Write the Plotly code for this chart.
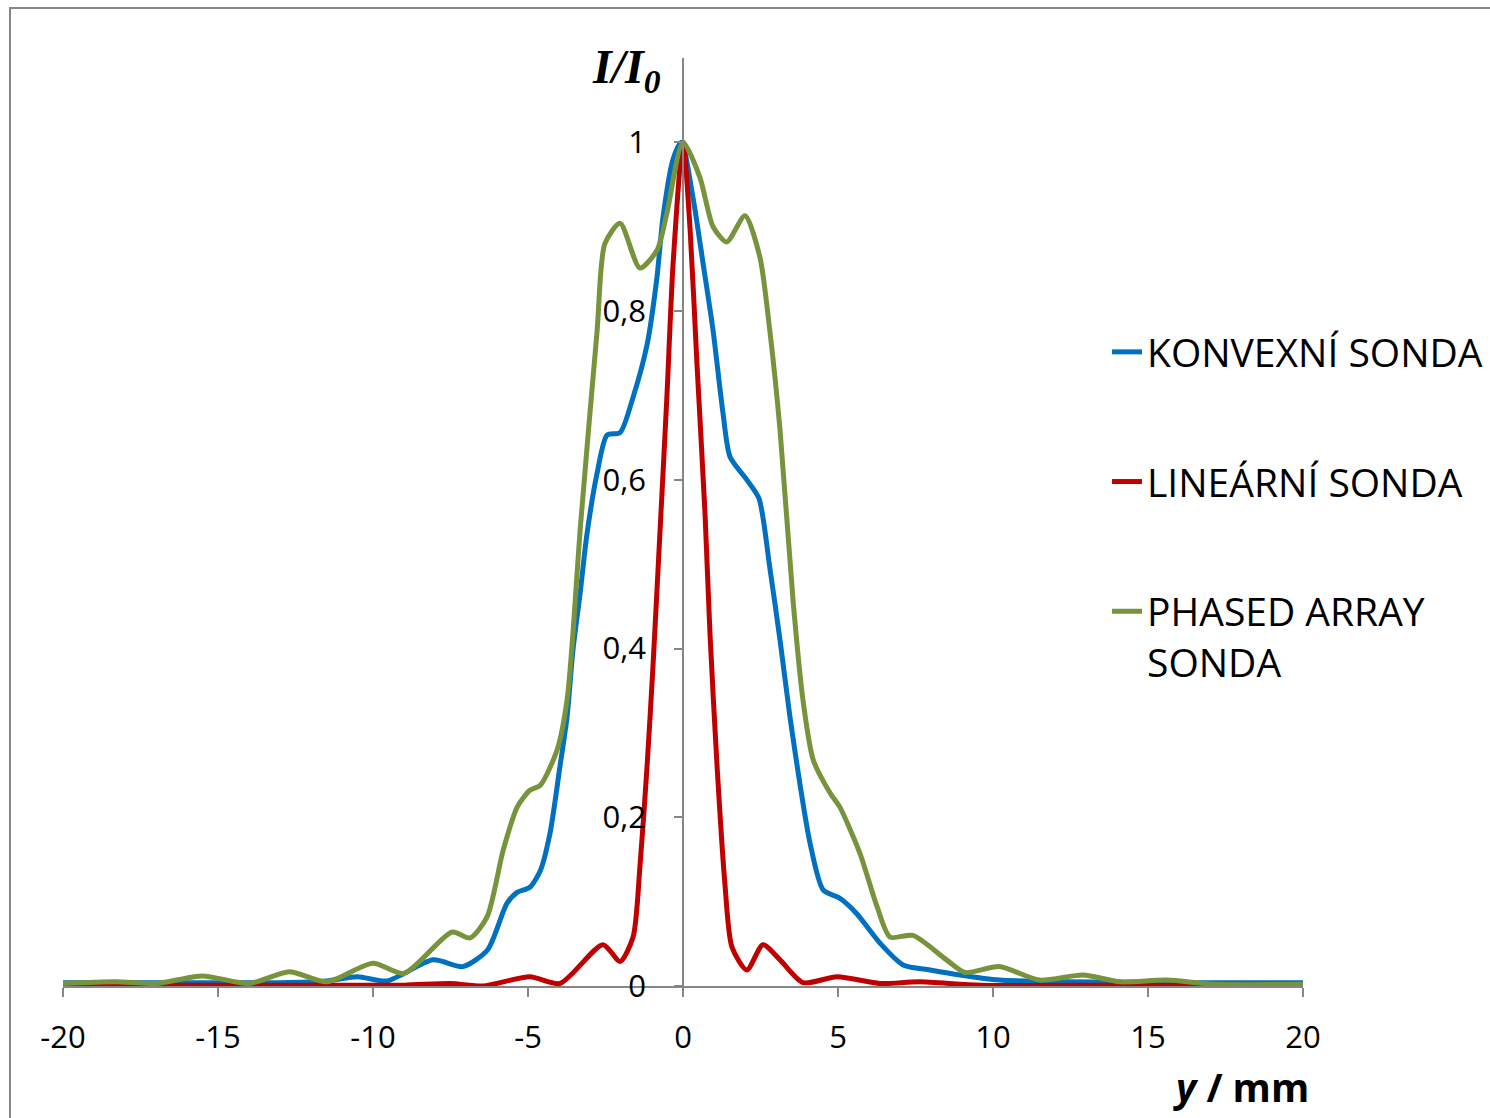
import plotly.graph_objects as go

# ---- data ----
x_konvex = [-20, -16, -13, -11.5, -10.5, -9.55, -8.06, -7.1, -6.3, -5.68, -5.35, -4.94, -4.6, -4.29,
            -3.97, -3.74, -3.55, -3.32, -3.1, -2.77, -2.45, -2.03, -1.61, -1.16, -0.84, -0.65, -0.32,
            -0.05, 0.32, 0.65, 0.97, 1.29, 1.52, 2.06, 2.45, 2.8, 3.13, 3.45, 3.77, 4.1, 4.52, 5.06,
            5.6, 6.35, 7.1, 7.97, 8.94, 10.2, 12.4, 16, 20]
y_konvex = [0.004, 0.004, 0.004, 0.006, 0.011, 0.006, 0.031, 0.023, 0.043, 0.098, 0.111, 0.117, 0.137,
            0.181, 0.26, 0.319, 0.398, 0.465, 0.535, 0.608, 0.653, 0.656, 0.698, 0.76, 0.84, 0.91,
            0.98, 1.0, 0.935, 0.856, 0.777, 0.679, 0.627, 0.6, 0.578, 0.496, 0.41, 0.319, 0.24, 0.169,
            0.114, 0.104, 0.086, 0.051, 0.025, 0.019, 0.013, 0.007, 0.005, 0.004, 0.004]

x_linear = [-20, -12, -9, -7.5, -6.45, -4.94, -3.97, -2.58, -2.03, -1.61, -1.39, -1.16, -0.97, -0.74,
            -0.52, -0.32, 0, 0.23, 0.45, 0.71, 0.87, 1.1, 1.35, 1.58, 2.06, 2.58, 3.13, 3.87, 4.97,
            6.35, 7.6, 9.6, 14, 20]
y_linear = [0.001, 0.001, 0.001, 0.003, 0.0, 0.011, 0.003, 0.049, 0.029, 0.058, 0.141, 0.26, 0.378,
            0.54, 0.698, 0.856, 1.0, 0.896, 0.738, 0.56, 0.418, 0.26, 0.122, 0.046, 0.019, 0.049,
            0.031, 0.004, 0.011, 0.003, 0.005, 0.001, 0.001, 0.001]

x_phased = [-20, -18.3, -17, -15.5, -14, -12.7, -11.5, -10, -9, -7.45, -6.87, -6.32, -5.8, -5.35,
            -4.94, -4.6, -4.06, -3.74, -3.55, -3.32, -2.77, -2.52, -2.03, -1.39, -0.84, -0.52, 0,
            0.55, 0.97, 1.41, 2.0, 2.48, 2.8, 3.13, 3.55, 3.87, 4.2, 4.74, 5.06, 5.71, 6.26, 6.68,
            7.42, 8.5, 9.1, 10.2, 11.5, 12.9, 14.1, 15.6, 17.2, 20]
y_phased = [0.003, 0.005, 0.003, 0.012, 0.003, 0.017, 0.005, 0.027, 0.015, 0.064, 0.057, 0.082,
            0.161, 0.212, 0.232, 0.238, 0.28, 0.339, 0.418, 0.54, 0.777, 0.88, 0.904, 0.851, 0.872,
            0.916, 1.0, 0.958, 0.9, 0.882, 0.913, 0.864, 0.777, 0.659, 0.457, 0.339, 0.268, 0.229,
            0.212, 0.157, 0.094, 0.058, 0.06, 0.031, 0.016, 0.023, 0.007, 0.013, 0.005, 0.007,
            0.002, 0.002]

series_names = ["KONVEXNÍ SONDA", "LINEÁRNÍ SONDA", "PHASED ARRAY<br>SONDA"]
series_colors = ["#0070C0", "#C00000", "#77933C"]

x_tickvals = [-20, -15, -10, -5, 0, 5, 10, 15, 20]
x_ticktext = ["-20", "-15", "-10", "-5", "0", "5", "10", "15", "20"]
y_tickvals = [0, 0.2, 0.4, 0.6, 0.8, 1.0]
y_ticktext = ["0", "0,2", "0,4", "0,6", "0,8", "1"]

FONT = "Open Sans"
AXIS_GRAY = "#868686"

fig = go.Figure()
for xs, ys, name, col, grp in zip([x_konvex, x_linear, x_phased],
                                  [y_konvex, y_linear, y_phased],
                                  series_names, series_colors, ["a", "b", "c"]):
    fig.add_trace(go.Scatter(x=xs, y=ys, mode="lines", name=name, legendgroup=grp,
                             line=dict(color=col, width=5, shape="spline", smoothing=0.7)))

W, H = 1490, 1118
L, R, T, B = 63, 187, 58, 132
pw, ph = W - L - R, H - T - B

def px_x(p):
    return (p - L) / pw

def px_y(p):
    return (H - B - p) / ph

fig.update_layout(
    width=W, height=H,
    margin=dict(l=L, r=R, t=T, b=B, autoexpand=False),
    paper_bgcolor="white", plot_bgcolor="white",
    font=dict(family=FONT, size=31, color="black"),
    xaxis=dict(range=[-20, 20], tickvals=x_tickvals, ticktext=x_ticktext,
               showline=True, linecolor=AXIS_GRAY, linewidth=1.5,
               ticks="outside", ticklen=9, tickcolor=AXIS_GRAY, tickwidth=1.5,
               showgrid=False, zeroline=False, ticklabelstandoff=14, automargin=False,
               tickfont=dict(family=FONT, size=31)),
    yaxis=dict(range=[0, 1.1], tickvals=y_tickvals, ticktext=y_ticktext,
               anchor="free", position=0.5,
               showline=True, linecolor=AXIS_GRAY, linewidth=1.5,
               ticks="outside", ticklen=8, tickcolor=AXIS_GRAY, tickwidth=1.5,
               showgrid=False, zeroline=False, ticklabelstandoff=22, automargin=False,
               tickfont=dict(family=FONT, size=31)),
    showlegend=True,
    legend=dict(x=px_x(1107), y=px_y(320), xanchor="left", yanchor="top",
                font=dict(family=FONT, size=39), bgcolor="rgba(0,0,0,0)",
                tracegroupgap=76, traceorder="grouped", valign="top",
                itemwidth=30),
    annotations=[
        dict(text="<b><i>I/I<sub>0</sub></i></b>", x=px_x(626), y=px_y(70),
             xref="paper", yref="paper", showarrow=False, xanchor="center", yanchor="middle",
             font=dict(family="Liberation Serif", size=48, color="black")),
        dict(text="<b><i>y</i> / mm</b>", x=px_x(1311), y=px_y(1086),
             xref="paper", yref="paper", showarrow=False, xanchor="right", yanchor="middle",
             font=dict(family=FONT, size=39, color="black")),
    ],
    shapes=[
        dict(type="rect", xref="paper", yref="paper",
             x0=px_x(10), x1=px_x(1500), y0=px_y(1130), y1=px_y(8),
             line=dict(color=AXIS_GRAY, width=2), fillcolor="rgba(0,0,0,0)", layer="below"),
    ],
)

fig.write_html("out.html", config={"displayModeBar": False},
               post_script="document.body.style.margin='0';")
